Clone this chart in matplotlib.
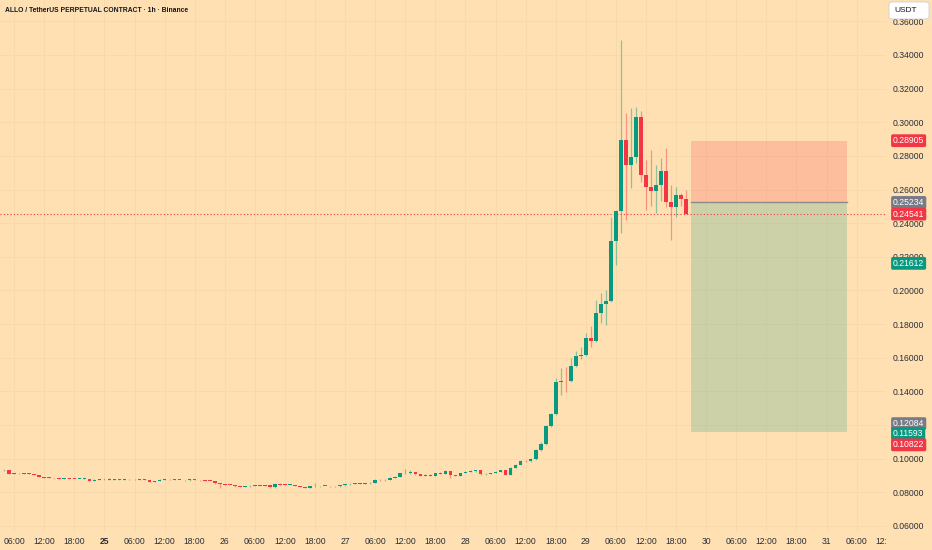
import numpy as np
import matplotlib
matplotlib.use('Agg')
import matplotlib.pyplot as plt
from matplotlib.patches import Rectangle, FancyBboxPatch
from matplotlib import transforms

# ---- data (hourly candles, hour 0 = day 25 00:00) ----
start_hour = -20
first_open = 0.0930
closes = [
    0.0933, 0.0910, 0.0913, 0.0912, 0.0911, 0.0909, 0.0903, 0.0892, 0.0887, 0.0885,
    0.0883, 0.0882, 0.0883, 0.0881, 0.0879, 0.0880, 0.0881, 0.0870, 0.0875, 0.0878,
    0.0882, 0.0875, 0.0877, 0.0876, 0.0878, 0.0877, 0.0878, 0.0876, 0.0874, 0.0864,
    0.0867, 0.0876, 0.0878, 0.0877, 0.0875, 0.0873, 0.0871, 0.0877, 0.0874, 0.0871,
    0.0869, 0.0867, 0.0854, 0.0849, 0.0844, 0.0843, 0.0836, 0.0834, 0.0836, 0.0839,
    0.0843, 0.0837, 0.0842, 0.0829, 0.0851, 0.0846, 0.0844, 0.0845, 0.0838, 0.0831,
    0.0828, 0.0838, 0.0835, 0.0838, 0.0837, 0.0836, 0.0835, 0.0842, 0.0847, 0.0852,
    0.0851, 0.0852, 0.0853, 0.0856, 0.0875, 0.0872, 0.0876, 0.0887, 0.0893, 0.0913,
    0.0917, 0.0918, 0.0906, 0.0899, 0.0905, 0.0899, 0.0912, 0.0910, 0.0926, 0.0903,
    0.0899, 0.0914, 0.0921, 0.0925, 0.0930, 0.0906, 0.0910, 0.0914, 0.0922, 0.0930,
    0.0905, 0.0946, 0.0964, 0.0988, 0.0985, 0.0998, 0.1052, 0.1086, 0.1195, 0.1266,
    0.1458, 0.1464, 0.1460, 0.1551, 0.1610, 0.1614, 0.1716, 0.1702, 0.1868, 0.1920,
    0.1938, 0.2294, 0.2472, 0.2895, 0.2745, 0.2795, 0.3030, 0.2687, 0.2615, 0.2593,
    0.2627, 0.2710, 0.2528, 0.2494, 0.2568, 0.2542, 0.2454,
]
highs = [
    0.0937, 0.0935, 0.0915, 0.0915, 0.0914, 0.0913, 0.0910, 0.0904, 0.0893, 0.0889,
    0.0886, 0.0885, 0.0885, 0.0884, 0.0882, 0.0882, 0.0883, 0.0882, 0.0877, 0.0880,
    0.0885, 0.0883, 0.0879, 0.0879, 0.0880, 0.0880, 0.0880, 0.0879, 0.0877, 0.0875,
    0.0869, 0.0879, 0.0881, 0.0880, 0.0878, 0.0876, 0.0874, 0.0879, 0.0878, 0.0875,
    0.0873, 0.0870, 0.0869, 0.0856, 0.0851, 0.0846, 0.0844, 0.0837, 0.0838, 0.0841,
    0.0845, 0.0844, 0.0844, 0.0843, 0.0853, 0.0853, 0.0847, 0.0847, 0.0846, 0.0839,
    0.0832, 0.0840, 0.0853, 0.0840, 0.0840, 0.0839, 0.0838, 0.0844, 0.0849, 0.0854,
    0.0854, 0.0858, 0.0855, 0.0860, 0.0878, 0.0877, 0.0879, 0.0890, 0.0896, 0.0916,
    0.0937, 0.0930, 0.0919, 0.0907, 0.0910, 0.0907, 0.0915, 0.0922, 0.0930, 0.0927,
    0.0905, 0.0917, 0.0924, 0.0930, 0.0935, 0.0932, 0.0914, 0.0917, 0.0925, 0.0933,
    0.0934, 0.0949, 0.0968, 0.0992, 0.0990, 0.1004, 0.1056, 0.1097, 0.1200, 0.1272,
    0.1478, 0.1537, 0.1547, 0.1597, 0.1640, 0.1666, 0.1745, 0.1789, 0.1943, 0.1983,
    0.2003, 0.2439, 0.2480, 0.3489, 0.3057, 0.3084, 0.3093, 0.3065, 0.2776, 0.2835,
    0.2746, 0.2786, 0.2849, 0.2627, 0.2614, 0.2580, 0.2597,
]
lows = [
    0.0928, 0.0908, 0.0908, 0.0910, 0.0909, 0.0907, 0.0901, 0.0890, 0.0885, 0.0883,
    0.0881, 0.0880, 0.0880, 0.0879, 0.0877, 0.0877, 0.0878, 0.0868, 0.0868, 0.0873,
    0.0876, 0.0873, 0.0873, 0.0874, 0.0874, 0.0875, 0.0875, 0.0874, 0.0872, 0.0860,
    0.0862, 0.0865, 0.0874, 0.0875, 0.0873, 0.0871, 0.0869, 0.0869, 0.0872, 0.0869,
    0.0867, 0.0865, 0.0852, 0.0824, 0.0842, 0.0841, 0.0834, 0.0832, 0.0832, 0.0834,
    0.0837, 0.0835, 0.0835, 0.0827, 0.0827, 0.0844, 0.0842, 0.0842, 0.0836, 0.0829,
    0.0826, 0.0824, 0.0833, 0.0833, 0.0835, 0.0834, 0.0833, 0.0833, 0.0840, 0.0845,
    0.0849, 0.0849, 0.0850, 0.0851, 0.0854, 0.0870, 0.0870, 0.0874, 0.0885, 0.0891,
    0.0911, 0.0907, 0.0903, 0.0896, 0.0897, 0.0897, 0.0897, 0.0908, 0.0908, 0.0884,
    0.0897, 0.0897, 0.0912, 0.0919, 0.0923, 0.0903, 0.0900, 0.0907, 0.0912, 0.0920,
    0.0902, 0.0901, 0.0943, 0.0960, 0.0982, 0.0983, 0.0995, 0.1045, 0.1080, 0.1190,
    0.1262, 0.1379, 0.1398, 0.1455, 0.1547, 0.1591, 0.1610, 0.1666, 0.1695, 0.1809,
    0.1795, 0.1930, 0.2151, 0.2340, 0.2419, 0.2608, 0.2756, 0.2647, 0.2479, 0.2504,
    0.2462, 0.2534, 0.2498, 0.2300, 0.2435, 0.2500, 0.2454,
]

# position tool (times in hours from day 25 00:00)
box_start, box_end = 116.9, 148.0
stop_price, entry_price, target_price = 0.28905, 0.25234, 0.11593
last_price = 0.24541

tag_values = [0.28905, 0.25234, 0.24541, 0.21612, 0.12084, 0.11593, 0.10822]
tag_colors = ['#F23645', '#787B86', '#F23645', '#089981', '#787B86', '#089981', '#F23645']

y_ticks = [0.06, 0.08, 0.10, 0.12, 0.14, 0.16, 0.18, 0.20, 0.22, 0.24, 0.26, 0.28,
           0.30, 0.32, 0.34, 0.36]
hidden_ticks = [0.12]  # fully covered by the price tags in the original
x_tick_hours = list(range(-18, 157, 6))
day_names = {0: '25', 24: '26', 48: '27', 72: '28', 96: '29', 120: '30', 144: '31'}

# ---- style ----
BG = '#FFE0B2'
GRID = '#F8D9AB'
UP = '#089981'
DOWN = '#F23645'
TXT = '#2A2E39'
FONT = 'Liberation Sans'

W, H = 932, 550
fig = plt.figure(figsize=(W / 100, H / 100), dpi=100, facecolor=BG)
plot_right = 886
plot_bottom = 532
ax = fig.add_axes([0, 1 - plot_bottom / H, plot_right / W, plot_bottom / H])
ax.set_facecolor(BG)
for s in ax.spines.values():
    s.set_visible(False)

ax.set_xlim(-20.82, 155.85)
ax.set_ylim(0.0564, 0.3727)

# grid
for xt in x_tick_hours:
    ax.axvline(xt, color=GRID, lw=0.7, zorder=0)
for yt in y_ticks:
    ax.axhline(yt, color=GRID, lw=0.7, zorder=0)

# candles
closes = np.array(closes)
opens = np.r_[first_open, closes[:-1]]
hours = start_hour + np.arange(len(closes))
colors = np.where(closes >= opens, UP, DOWN)
ax.vlines(hours, lows, highs, colors=colors, lw=0.9, alpha=0.45, zorder=2)
body_h = np.maximum(np.abs(closes - opens), 0.0004)
body_b = np.minimum(opens, closes)
ax.bar(hours, body_h, bottom=body_b, width=0.72, color=colors, lw=0, zorder=3)

# position box
ax.add_patch(Rectangle((box_start, entry_price), box_end - box_start, stop_price - entry_price,
                       facecolor=DOWN, alpha=0.2, lw=0, zorder=1))
ax.add_patch(Rectangle((box_start, target_price), box_end - box_start, entry_price - target_price,
                       facecolor=UP, alpha=0.2, lw=0, zorder=1))
ax.plot([box_start, box_end], [entry_price, entry_price], color='#8A8A8A', lw=1.0, zorder=2)

# last price line
ax.axhline(last_price, color=DOWN, lw=0.8, ls=(0, (1, 2)), zorder=2)

# right price axis
ax.yaxis.tick_right()
ax.set_yticks(y_ticks)
ax.set_yticklabels(['' if v in hidden_ticks else f'{v:.5f}' for v in y_ticks],
                   fontsize=6.2, color=TXT, family=FONT)
ax.tick_params(axis='y', length=0, pad=5)
ax.set_xticks([])

# price tags
trans = transforms.blended_transform_factory(ax.transAxes, ax.transData)
for v, c in zip(tag_values, tag_colors):
    dy = -1.2 if v == 0.11593 else 0
    t = transforms.offset_copy(trans, fig=fig, x=0, y=dy, units='points')
    ax.text(1 + 7 / plot_right, v, f'{v:.5f}', transform=t, ha='left', va='center',
            fontsize=6.2, color='white', family=FONT, zorder=10, clip_on=False,
            bbox=dict(boxstyle='round,pad=0.22,rounding_size=0.2', fc=c, ec='none'))

# time axis labels (clipped at the price scale)
clip = transforms.TransformedBbox(transforms.Bbox([[0, 0], [plot_right / W, 1]]), fig.transFigure)
for xt in x_tick_hours:
    lab = day_names.get(xt, f'{xt % 24:02d}:00')
    xf = ax.transData.transform((xt, 0))[0] / W
    t = fig.text(xf, 1 - 541 / H, lab, ha='center', va='center', fontsize=6.2,
                 color=TXT, family=FONT, fontweight='bold' if xt == 0 else 'normal')
    t.set_clip_box(clip)
    t.set_clip_on(True)

# title and currency box
fig.text(5 / W, 1 - 10 / H, 'ALLO / TetherUS PERPETUAL CONTRACT · 1h · Binance',
         ha='left', va='center', fontsize=4.9, fontweight='bold', color='#131722', family=FONT)
fig.patches.append(FancyBboxPatch(
    (889 / W, 1 - 19 / H), 40 / W, 17 / H, boxstyle='round,pad=0,rounding_size=0.004',
    transform=fig.transFigure, fc='white', ec='#D0D0D0', lw=0.6, zorder=20))
fig.text(894 / W, 1 - 10.5 / H, 'USDT', ha='left', va='center', fontsize=6,
         color='#131722', family=FONT, zorder=21)

plt.savefig('out.png', dpi=100, facecolor=BG)
